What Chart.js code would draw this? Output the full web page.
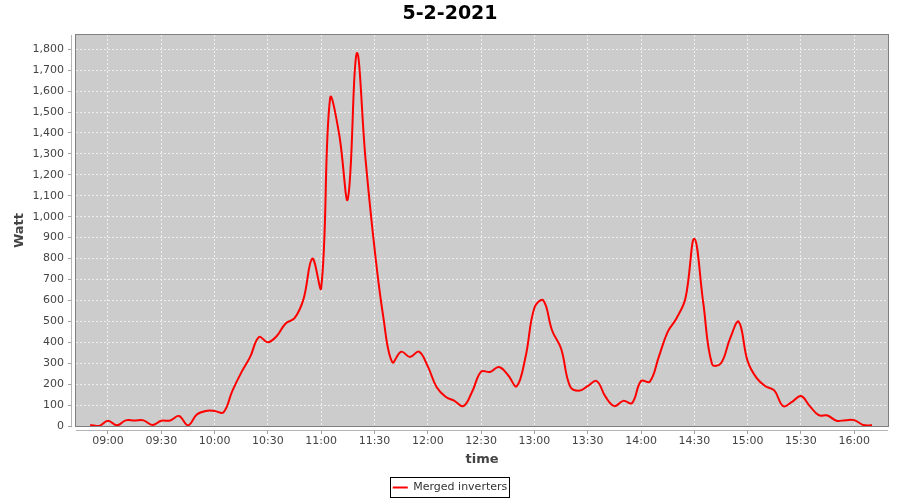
<!DOCTYPE html>
<html>
<head>
<meta charset="utf-8">
<title>5-2-2021</title>
<script src="https://cdn.jsdelivr.net/npm/chart.js@4.4.1/dist/chart.umd.min.js"></script>
<style>
  html, body { margin: 0; padding: 0; background: #ffffff; }
  #c { display: block; }
</style>
</head>
<body>
<canvas id="c" width="900" height="500"></canvas>
<script>
// ---- data ----
const chartTitle = '5-2-2021';
const seriesName = 'Merged inverters';
const xAxisTitle = 'time';
const yAxisTitle = 'Watt';

const times = [
  '08:50','08:55',
  '09:00','09:05','09:10','09:15','09:20','09:25','09:30','09:35','09:40','09:45','09:50','09:55',
  '10:00','10:05','10:10','10:15','10:20','10:25','10:30','10:35','10:40','10:45','10:50','10:55',
  '11:00','11:05','11:10','11:15','11:20','11:25','11:30','11:35','11:40','11:45','11:50','11:55',
  '12:00','12:05','12:10','12:15','12:20','12:25','12:30','12:35','12:40','12:45','12:50','12:55',
  '13:00','13:05','13:10','13:15','13:20','13:25','13:30','13:35','13:40','13:45','13:50','13:55',
  '14:00','14:05','14:10','14:15','14:20','14:25','14:30','14:35','14:40','14:45','14:50','14:55',
  '15:00','15:05','15:10','15:15','15:20','15:25','15:30','15:35','15:40','15:45','15:50','15:55',
  '16:00','16:05','16:10'
];

const watts = [
  5, 0,
  25, 3, 27, 26, 27, 5, 25, 26, 48, 3, 55, 72,
  72, 65, 168, 255, 330, 425, 400, 430, 490, 515, 605, 800,
  660, 1565, 1400, 1085, 1780, 1270, 850, 518, 305, 355, 330, 355,
  285, 185, 140, 120, 95, 165, 260, 258, 282, 245, 190, 330,
  565, 600, 455, 370, 190, 168, 190, 215, 140, 95, 120, 110,
  215, 212, 330, 450, 515, 610, 895, 590, 295, 300, 415, 498,
  310, 230, 190, 170, 95, 115, 143, 95, 52, 50, 25, 28,
  28, 5, 3
];

const xTickLabels = ['09:00','09:30','10:00','10:30','11:00','11:30','12:00','12:30',
                     '13:00','13:30','14:00','14:30','15:00','15:30','16:00'];
const yTickValues = [0,100,200,300,400,500,600,700,800,900,1000,1100,1200,1300,1400,1500,1600,1700,1800];

const xRangeMinutes = [522, 979];
const yRange = [0, 1868];

// ---- helpers ----
function toMinutes(s) { const p = s.split(':').map(Number); return p[0] * 60 + p[1]; }
function pad2(n) { return (n < 10 ? '0' : '') + n; }
function fmtMinutes(v) { const m = Math.round(v); return pad2(Math.floor(m / 60)) + ':' + pad2(m % 60); }

const points = times.map((t, i) => ({ x: toMinutes(t), y: watts[i] }));

const FONT = "'DejaVu Sans', 'Noto Sans', sans-serif";
Chart.defaults.font.family = FONT;

// plot background, offset axis lines, outline and legend frame (JFreeChart look)
const framePlugin = {
  id: 'frame',
  beforeDraw(chart) {
    const { ctx, chartArea: a } = chart;
    ctx.save();
    ctx.fillStyle = '#ffffff';
    ctx.fillRect(0, 0, chart.width, chart.height);
    ctx.fillStyle = '#cccccc';
    ctx.fillRect(a.left, a.top, a.right - a.left, a.bottom - a.top);
    ctx.restore();
  },
  afterDraw(chart) {
    const { ctx, chartArea: a } = chart;
    ctx.save();
    // gap between axis lines and plot
    ctx.fillStyle = '#ffffff';
    ctx.fillRect(a.left - 4, a.top - 1, 4, a.bottom - a.top + 2);
    ctx.fillRect(a.left - 1, a.bottom, a.right - a.left + 2, 4);
    // axis lines
    ctx.strokeStyle = '#b4b4b4';
    ctx.lineWidth = 1;
    ctx.beginPath();
    ctx.moveTo(a.left - 4.5, a.top);
    ctx.lineTo(a.left - 4.5, a.bottom);
    ctx.moveTo(a.left, a.bottom + 4.5);
    ctx.lineTo(a.right, a.bottom + 4.5);
    ctx.stroke();
    // plot outline
    ctx.strokeStyle = '#808080';
    ctx.strokeRect(a.left - 0.5, a.top - 0.5, a.right - a.left + 1, a.bottom - a.top + 1);
    // legend frame
    const lg = chart.legend;
    if (lg && lg.legendHitBoxes && lg.legendHitBoxes.length) {
      const hb = lg.legendHitBoxes[0];
      ctx.strokeStyle = '#000000';
      ctx.strokeRect(Math.round(hb.left - 3) + 0.5, Math.round(hb.top - 5) + 0.5,
                     Math.round(hb.width + 5), Math.round(hb.height + 9));
    }
    ctx.restore();
  }
};

new Chart(document.getElementById('c'), {
  type: 'line',
  data: {
    datasets: [{
      label: seriesName,
      data: points,
      borderColor: '#ff0000',
      backgroundColor: '#ff0000',
      borderWidth: 2,
      pointRadius: 0,
      pointHoverRadius: 0,
      tension: 0.4,
      fill: false
    }]
  },
  options: {
    responsive: false,
    devicePixelRatio: 1,
    animation: false,
    events: [],
    layout: { padding: { left: 0, right: 0, top: 0, bottom: -3 } },
    plugins: {
      title: {
        display: true,
        text: chartTitle,
        color: '#000000',
        font: { family: FONT, size: 19, weight: 'bold', lineHeight: 1.2 },
        padding: { top: 2.6, bottom: 9.6 }
      },
      legend: {
        display: true,
        position: 'bottom',
        labels: {
          color: '#333333',
          font: { family: FONT, size: 11 },
          usePointStyle: true,
          pointStyle: 'line',
          pointStyleWidth: 15,
          padding: 8
        }
      },
      tooltip: { enabled: false }
    },
    scales: {
      x: {
        type: 'linear',
        min: xRangeMinutes[0],
        max: xRangeMinutes[1],
        afterBuildTicks: (s) => { s.ticks = xTickLabels.map(l => ({ value: toMinutes(l) })); },
        afterFit: (s) => { s.height = 48; },
        ticks: {
          callback: (v) => fmtMinutes(v),
          color: '#444444',
          font: { family: FONT, size: 11 },
          padding: 1,
          maxRotation: 0,
          autoSkip: false
        },
        grid: {
          color: '#eeeeee',
          lineWidth: 1,
          drawTicks: true,
          tickLength: 8,
          tickColor: '#a0a0a0',
          tickBorderDash: []
        },
        border: { display: false, dash: [2, 2] },
        title: {
          display: true,
          text: xAxisTitle,
          color: '#444444',
          font: { family: FONT, size: 13, weight: 'bold', lineHeight: 1.2 },
          padding: { top: 0, bottom: 6.2 }
        }
      },
      y: {
        type: 'linear',
        min: yRange[0],
        max: yRange[1],
        afterBuildTicks: (s) => { s.ticks = yTickValues.map(v => ({ value: v })); },
        afterFit: (s) => { s.width = 76; },
        ticks: {
          callback: (v) => Number(v).toLocaleString('en-US'),
          color: '#444444',
          font: { family: FONT, size: 11 },
          padding: 4,
          autoSkip: false
        },
        grid: {
          color: '#eeeeee',
          lineWidth: 1,
          drawTicks: true,
          tickLength: 8,
          tickColor: '#a0a0a0',
          tickBorderDash: []
        },
        border: { display: false, dash: [2, 2] },
        title: {
          display: true,
          text: yAxisTitle,
          color: '#444444',
          font: { family: FONT, size: 13, weight: 'bold', lineHeight: 1.2 },
          padding: { top: 12, bottom: 0 }
        }
      },
      // empty right-hand spacer so the plot ends where the reference's does
      spacer: {
        type: 'linear',
        position: 'right',
        display: true,
        afterFit: (s) => { s.width = 12; },
        ticks: { display: false },
        grid: { display: false, drawTicks: false },
        border: { display: false },
        title: { display: false }
      }
    }
  },
  plugins: [framePlugin]
});
</script>
</body>
</html>
